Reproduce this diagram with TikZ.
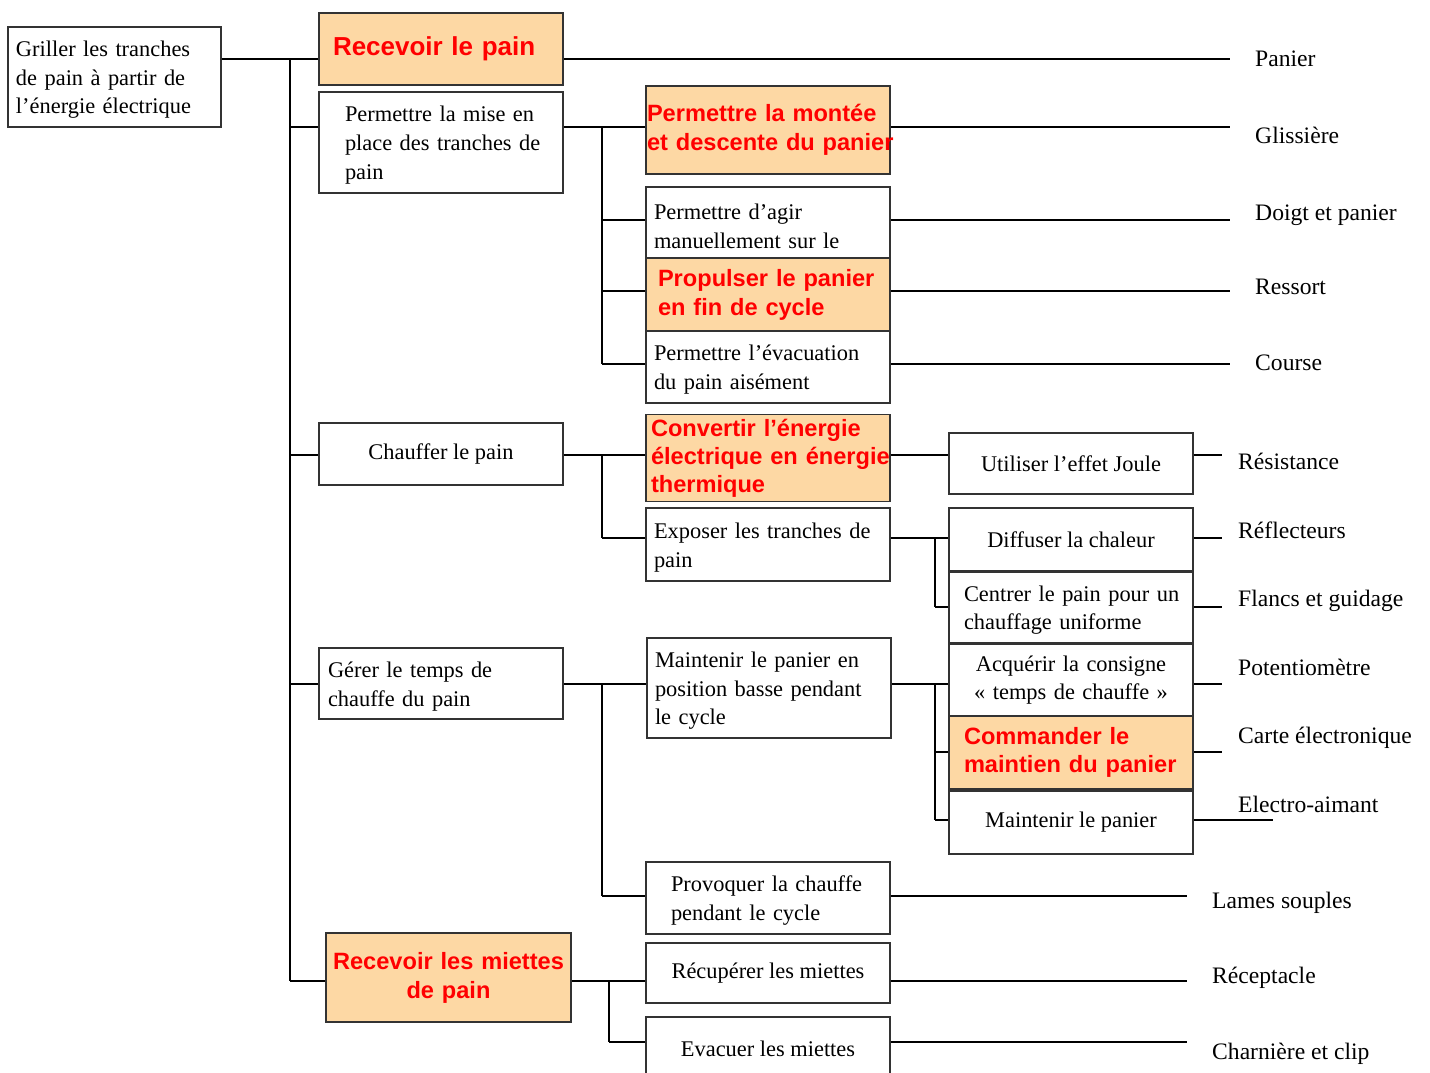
\documentclass[tikz,border=0pt]{standalone}
\usepackage{fontspec}
\setmainfont{Liberation Serif}
\newfontfamily\sansf{Liberation Sans}
\definecolor{boxorange}{RGB}{253,216,164}
\definecolor{boxred}{RGB}{255,0,0}
\begin{document}
\begin{tikzpicture}[x=1pt,y=-1pt,
  box/.style={draw=black!80, line width=1.8pt, fill=white, inner sep=0pt, font=\fontsize{22.4}{28.8}\selectfont},
  obox/.style={box, fill=boxorange, text=boxred, font=\sansf\bfseries\fontsize{23.6}{29}\selectfont},
  lower/.style={execute at begin node={\vrule height 21pt width 0pt\relax}},
  wire/.style={line width=1.4pt, black},
  lab/.style={anchor=west, inner sep=0pt, font=\fontsize{23.6}{28}\selectfont, text height=17pt, text depth=4pt},
]
\useasboundingbox (0,0) rectangle (1430,1072);
\fill[white] (0,0) rectangle (1430,1072);

% level coordinates
\coordinate (L59) at (0,59);
\coordinate (L127) at (0,127);
\coordinate (L220) at (0,220);
\coordinate (L291) at (0,291);
\coordinate (L365) at (0,364);
\coordinate (L455) at (0,455);
\coordinate (L538) at (0,538);
\coordinate (L607) at (0,607);
\coordinate (L683) at (0,684);
\coordinate (L752) at (0,752);
\coordinate (L820) at (0,820);
\coordinate (L897) at (0,896);
\coordinate (L981) at (0,981);
\coordinate (L1042) at (0,1042);
\coordinate (B1) at (290,0);
\coordinate (B2) at (602,0);
\coordinate (B3) at (935,0);
\coordinate (B4) at (609,0);
\coordinate (E1) at (1230,0);
\coordinate (E2) at (1222,0);
\coordinate (E3) at (1273,0);
\coordinate (E4) at (1187,0);

% ---------- boxes ----------
\node[box, lower, minimum width=213pt, minimum height=100pt, text width=197pt, align=left] (root) at (114.5,77) {\mbox{Griller les tranches}\\de pain à partir de\\\mbox{l'énergie électrique}};

\node[obox, minimum width=244pt, minimum height=72pt, text width=216pt, align=left, font=\sansf\bfseries\fontsize{26}{30}\selectfont] (rp) at (441,49) {\mbox{Recevoir le pain}};
\node[box, lower, minimum width=244pt, minimum height=101pt, text width=192pt, align=left] (mise) at (441,142.5) {\mbox{Permettre la mise en}\\\mbox{place des tranches de}\\pain};
\node[box, minimum width=244pt, minimum height=62pt, align=center] (chauffer) at (441,454) {Chauffer le pain};
\node[box, lower, minimum width=244pt, minimum height=71pt, text width=226pt, align=left] (gerer) at (441,683.5) {Gérer le temps de\\chauffe du pain};
\node[obox, minimum width=245pt, minimum height=89pt, text width=240pt, align=center] (miettes) at (448.5,977.5) {\mbox{Recevoir les miettes}\\de pain};

\node[obox, minimum width=244pt, minimum height=88pt, text width=242pt, align=left] (montee) at (768,130) {\mbox{Permettre la montée}\\\mbox{et descente du panier}};
\node[box, lower, minimum width=244pt, minimum height=73pt, text width=228pt, align=left] (agir) at (768,223.5) {Permettre d'agir\\manuellement sur le};
\node[obox, minimum width=244pt, minimum height=73pt, text width=220pt, align=left] (propulser) at (768,294.5) {\mbox{Propulser le panier}\\en fin de cycle};
\node[box, lower, minimum width=244pt, minimum height=72pt, text width=228pt, align=left] (evac) at (768,367) {\mbox{Permettre l'évacuation}\\du pain aisément};
\node[obox, minimum width=244pt, minimum height=87pt, text width=234pt, align=left, font=\sansf\bfseries\fontsize{23.6}{28}\selectfont] (convertir) at (768,458) {\mbox{Convertir l’énergie}\\\mbox{électrique en énergie}\\thermique};
\node[box, lower, minimum width=244pt, minimum height=73pt, text width=228pt, align=left] (exposer) at (768,544.5) {\mbox{Exposer les tranches de}\\pain};
\node[box, lower, minimum width=244pt, minimum height=100pt, text width=228pt, align=left] (basse) at (769,688) {\mbox{Maintenir le panier en}\\\mbox{position basse pendant}\\le cycle};
\node[box, lower, minimum width=244pt, minimum height=72pt, text width=194pt, align=left] (provoquer) at (768,898) {\mbox{Provoquer la chauffe}\\pendant le cycle};
\node[box, minimum width=244pt, minimum height=60pt, align=center] (recuperer) at (768,973) {Récupérer les miettes};
\node[box, minimum width=244pt, minimum height=63pt, align=center] (evacuer) at (768,1048.5) {Evacuer les miettes};

\node[box, minimum width=244pt, minimum height=61pt, align=center] (utiliser) at (1071,463.5) {Utiliser l'effet Joule};
\node[box, minimum width=244pt, minimum height=63pt, align=center] (diffuser) at (1071,539.5) {Diffuser la chaleur};
\node[box, lower, minimum width=244pt, minimum height=71pt, text width=214pt, align=left] (centrer) at (1071,607.5) {\mbox{Centrer le pain pour un}\\chauffage uniforme};
\node[box, minimum width=244pt, minimum height=72pt, text width=230pt, align=center] (acquerir) at (1071,680) {Acquérir la consigne\\« temps de chauffe »};
\node[obox, minimum width=244pt, minimum height=73pt, text width=214pt, align=left, font=\sansf\bfseries\fontsize{23.6}{28}\selectfont] (commander) at (1071,752.5) {Commander le\\\mbox{maintien du panier}};
\node[box, minimum width=244pt, minimum height=63pt, align=center] (maintenir) at (1071,822.5) {Maintenir le panier};

% ---------- wires ----------
\draw[wire] (root.east |- L59) -- (rp.west |- L59);
\draw[wire] (B1 |- L59) -- (B1 |- L981);
\draw[wire] (B1 |- L127) -- (mise.west |- L127);
\draw[wire] (B1 |- L455) -- (chauffer.west |- L455);
\draw[wire] (B1 |- L683) -- (gerer.west |- L683);
\draw[wire] (B1 |- L981) -- (miettes.west |- L981);
\draw[wire] (rp.east |- L59) -- (E1 |- L59);

\draw[wire] (mise.east |- L127) -- (montee.west |- L127);
\draw[wire] (B2 |- L127) -- (B2 |- L365);
\draw[wire] (B2 |- L220) -- (agir.west |- L220);
\draw[wire] (B2 |- L291) -- (propulser.west |- L291);
\draw[wire] (B2 |- L365) -- (evac.west |- L365);
\draw[wire] (montee.east |- L127) -- (E1 |- L127);
\draw[wire] (agir.east |- L220) -- (E1 |- L220);
\draw[wire] (propulser.east |- L291) -- (E1 |- L291);
\draw[wire] (evac.east |- L365) -- (E1 |- L365);

\draw[wire] (chauffer.east |- L455) -- (convertir.west |- L455);
\draw[wire] (B2 |- L455) -- (B2 |- L538);
\draw[wire] (B2 |- L538) -- (exposer.west |- L538);
\draw[wire] (convertir.east |- L455) -- (utiliser.west |- L455);
\draw[wire] (utiliser.east |- L455) -- (E2 |- L455);
\draw[wire] (exposer.east |- L538) -- (diffuser.west |- L538);
\draw[wire] (B3 |- L538) -- (B3 |- L607);
\draw[wire] (B3 |- L607) -- (centrer.west |- L607);
\draw[wire] (diffuser.east |- L538) -- (E2 |- L538);
\draw[wire] (centrer.east |- L607) -- (E2 |- L607);

\draw[wire] (gerer.east |- L683) -- (basse.west |- L683);
\draw[wire] (B2 |- L683) -- (B2 |- L897);
\draw[wire] (B2 |- L897) -- (provoquer.west |- L897);
\draw[wire] (basse.east |- L683) -- (acquerir.west |- L683);
\draw[wire] (B3 |- L683) -- (B3 |- L820);
\draw[wire] (B3 |- L752) -- (commander.west |- L752);
\draw[wire] (B3 |- L820) -- (maintenir.west |- L820);
\draw[wire] (acquerir.east |- L683) -- (E2 |- L683);
\draw[wire] (commander.east |- L752) -- (E2 |- L752);
\draw[wire] (maintenir.east |- L820) -- (E3 |- L820);
\draw[wire] (provoquer.east |- L897) -- (E4 |- L897);

\draw[wire] (miettes.east |- L981) -- (recuperer.west |- L981);
\draw[wire] (B4 |- L981) -- (B4 |- L1042);
\draw[wire] (B4 |- L1042) -- (evacuer.west |- L1042);
\draw[wire] (recuperer.east |- L981) -- (E4 |- L981);
\draw[wire] (evacuer.east |- L1042) -- (E4 |- L1042);

% ---------- labels ----------
\node[lab] (t1) at (1255,60) {Panier};
\node[lab] (t2) at (1255,137) {Glissière};
\node[lab] (t3) at (1255,214) {Doigt et panier};
\node[lab] (t4) at (1255,288) {Ressort};
\node[lab] (t5) at (1255,364) {Course};
\node[lab] (t6) at (1238,463) {Résistance};
\node[lab] (t7) at (1238,532) {Réflecteurs};
\node[lab] (t8) at (1238,600) {Flancs et guidage};
\node[lab] (t9) at (1238,669) {Potentiomètre};
\node[lab] (t10) at (1238,737) {Carte électronique};
\node[lab] (t11) at (1238,806) {Electro-aimant};
\node[lab] (t12) at (1212,902) {Lames souples};
\node[lab] (t13) at (1212,977) {Réceptacle};
\node[lab] (t14) at (1212,1053) {Charnière et clip};
\end{tikzpicture}
\end{document}
